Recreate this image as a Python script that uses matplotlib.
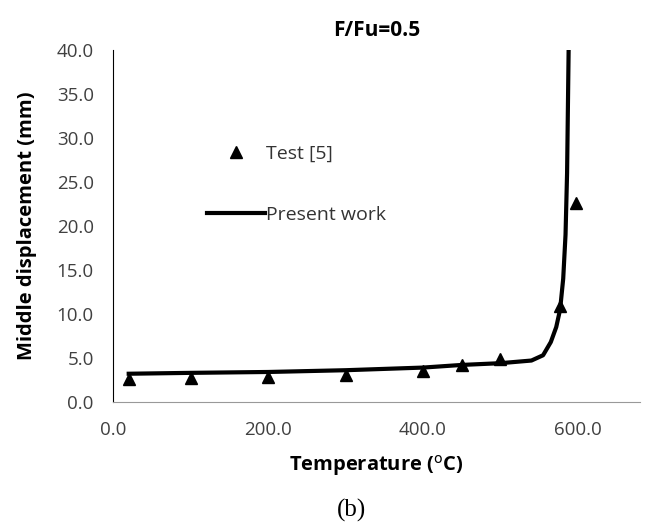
import matplotlib.pyplot as plt
import numpy as np

# test points
test_temp = [20, 100, 200, 300, 400, 450, 500, 577, 597]
test_disp = [2.6, 2.7, 2.8, 3.1, 3.5, 4.2, 4.9, 10.9, 22.6]

# present work curve
model_temp = [20, 100, 200, 300, 400, 450, 500, 540, 555, 565, 572, 577, 581, 584, 586, 587, 588]
model_disp = [3.2, 3.3, 3.4, 3.6, 3.9, 4.2, 4.4, 4.7, 5.3, 6.8, 8.5, 10.5, 14.0, 19.0, 26.0, 33.0, 40.0]

xticks = [0, 200, 400, 600]
yticks = np.arange(0, 41, 5)

plt.rcParams['font.family'] = ['Open Sans', 'DejaVu Sans']

fig = plt.figure(figsize=(6.47, 5.24), dpi=100)
ax = fig.add_axes([0.175, 0.233, 0.814, 0.672])

ax.plot(model_temp, model_disp, color='k', lw=3, label='Present work', zorder=2)
ax.plot(test_temp, test_disp, ls='none', marker='^', ms=9, color='k', label='Test [5]', zorder=3)

ax.set_xlim(0, 680)
ax.set_ylim(0, 40)
ax.set_xticks(xticks)
ax.set_yticks(yticks)
ax.set_xticklabels(['%.1f' % v for v in xticks])
ax.set_yticklabels(['%.1f' % v for v in yticks])
ax.tick_params(length=0, labelsize=13.5, labelcolor='#404040')
ax.tick_params(axis='y', pad=14)
ax.tick_params(axis='x', pad=14)

for s in ['top', 'right']:
    ax.spines[s].set_visible(False)
ax.spines['left'].set_color('k')
ax.spines['bottom'].set_color('#999999')

ax.set_xlabel('Temperature ($^{\\mathrm{o}}$C)', fontsize=14.5, fontweight='bold', labelpad=10)
ax.set_ylabel('Middle displacement (mm)', fontsize=14.5, fontweight='bold', labelpad=14)
ax.set_title('F/Fu=0.5', fontsize=15, fontweight='bold', pad=10)

h, l = ax.get_legend_handles_labels()
ax.legend(h[::-1], l[::-1], loc='upper left', bbox_to_anchor=(0.145, 0.78), frameon=False,
          fontsize=14, handlelength=3.0, handletextpad=0.05, labelspacing=2.2,
          labelcolor='#333333')

fig.text(0.543, 0.015, '(b)', fontsize=18, family='Liberation Serif', ha='center')

fig.savefig('out.png')
